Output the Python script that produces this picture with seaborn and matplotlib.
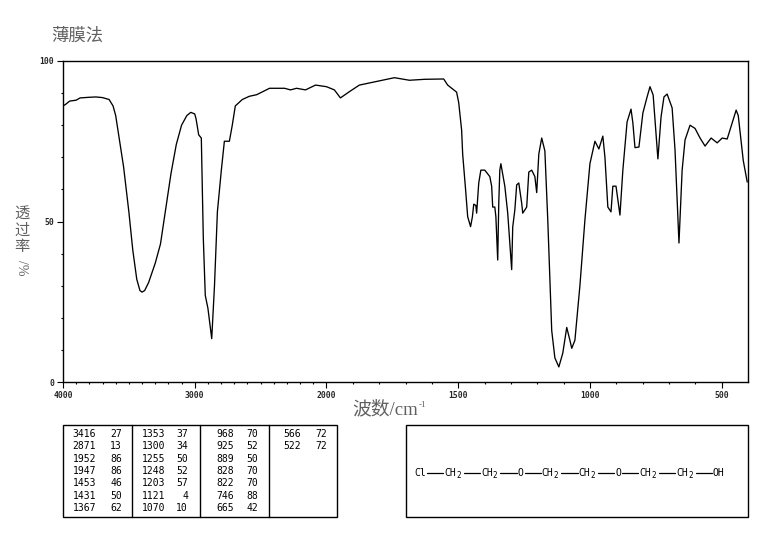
import numpy as np
import pandas as pd
import matplotlib
matplotlib.use("Agg")
import matplotlib.pyplot as plt
from matplotlib.lines import Line2D
from matplotlib.patches import Rectangle
from matplotlib.ticker import FixedLocator, FixedFormatter
import seaborn as sns

sns.set_style("white")
plt.rcParams['font.family'] = ['Noto Sans CJK SC', 'DejaVu Sans']

wavenumber = [4000, 3980, 3950, 3900, 3870, 3800, 3750, 3700, 3650, 3620, 3600, 3570, 3540, 3500, 3470, 3440,
              3416, 3400, 3380, 3350, 3300, 3260, 3220, 3180, 3140, 3100, 3060, 3030, 3000, 2990, 2970, 2950,
              2935, 2920, 2900, 2871, 2850, 2828, 2798, 2775, 2737, 2715, 2692, 2639, 2586, 2530, 2432, 2318, 2273,
              2227, 2159, 2083, 2000, 1970, 1947, 1912, 1875, 1818, 1742, 1685, 1627,
              1570, 1555, 1540, 1506, 1498, 1487, 1483, 1472, 1464, 1453, 1446, 1441, 1433, 1430, 1422, 1414,
              1399, 1380, 1373, 1369, 1361, 1357, 1350, 1346, 1342, 1338, 1323, 1312, 1297, 1293, 1285, 1278,
              1270, 1259, 1255, 1240, 1232, 1221, 1209, 1202, 1194, 1183, 1171, 1160, 1145, 1133, 1118, 1103,
              1088, 1076, 1069, 1057, 1038, 1019, 1000, 981, 966, 951, 943, 932, 920, 913, 901, 886, 875, 859,
              844, 837, 829, 814, 799, 783, 772, 760, 753, 742, 730, 719, 707, 688, 677, 662, 650, 639, 620,
              601, 582, 563, 540, 517, 498, 479, 460, 445, 437, 418, 403]
transmittance = [86, 86.5, 87.5, 87.8, 88.5, 88.7, 88.8, 88.6, 88, 86, 83, 75, 67, 53, 41, 32,
                 28.5, 28, 28.5, 31, 37, 43, 54, 65, 74, 80, 83, 84, 83.5, 82, 77, 76,
                 45, 27, 23, 13.5, 30, 53, 66, 75, 75, 80, 86, 88, 89, 89.5, 91.5, 91.5, 91,
                 91.5, 91, 92.5, 92, 91, 88.5, 90.5, 92.5, 93.5, 94.8, 94, 94.3,
                 94.4, 94.4, 92.5, 90.3, 87, 78.5, 71, 60, 51.5, 48.4, 51.5, 55.4, 55, 52.6, 62, 66,
                 66, 64, 61, 54.5, 54.5, 51.5, 38, 55.7, 66, 68, 61, 52.6, 35, 48.3, 53.6, 61.4,
                 62, 55.7, 52.6, 54.5, 65.4, 66, 64, 59, 71, 76, 72, 50.5, 16, 7.5, 4.7, 9,
                 17, 13, 10.5, 13, 30, 50.5, 68, 75, 72.6, 76.6, 70, 54.5, 53, 61, 61, 52, 66, 81,
                 85, 80.7, 73, 73.2, 83.8, 88.8, 92, 89.4, 81.6, 69.5, 82.6, 88.8, 89.7, 85.4, 72.3, 43.3, 66, 75.4, 80,
                 79, 76, 73.5, 76, 74.5, 76, 75.7, 80.7, 84.7, 83, 69, 62.3]

x_major = [4000, 3000, 2000, 1500, 1000, 500]
x_minor = list(range(3900, 400, -100))
y_major = [0, 50, 100]
y_minor = [10, 20, 30, 40, 60, 70, 80, 90]

peak_columns = [
    [("3416", "27"), ("2871", "13"), ("1952", "86"), ("1947", "86"), ("1453", "46"), ("1431", "50"), ("1367", "62")],
    [("1353", "37"), ("1300", "34"), ("1255", "50"), ("1248", "52"), ("1203", "57"), ("1121", "4"), ("1070", "10")],
    [("968", "70"), ("925", "52"), ("889", "50"), ("828", "70"), ("822", "70"), ("746", "88"), ("665", "42")],
    [("566", "72"), ("522", "72")],
]
formula = ["Cl", "CH2", "CH2", "O", "CH2", "CH2", "O", "CH2", "CH2", "OH"]

W, H = 765, 539
fig = plt.figure(figsize=(W / 100, H / 100), dpi=100, facecolor="white")
ax = fig.add_axes([63 / W, 1 - 382 / H, 685 / W, 321 / H])


def fwd(x):
    x = np.asarray(x, dtype=float)
    return np.where(x > 2000, 2000 + (x - 2000) / 2, x)


def inv(v):
    v = np.asarray(v, dtype=float)
    return np.where(v > 2000, 2000 + (v - 2000) * 2, v)


df = pd.DataFrame({"wavenumber": wavenumber, "T": transmittance})
sns.lineplot(data=df, x="wavenumber", y="T", ax=ax, color="black", lw=0.95,
             sort=False, estimator=None, errorbar=None)
ax.set_xscale("function", functions=(fwd, inv))
ax.set_xlim(4000, 400)
ax.set_ylim(0, 100)
ax.xaxis.set_major_locator(FixedLocator(x_major))
ax.xaxis.set_major_formatter(FixedFormatter([str(v) for v in x_major]))
ax.xaxis.set_minor_locator(FixedLocator(x_minor))
ax.xaxis.set_minor_formatter(FixedFormatter([""] * len(x_minor)))
ax.yaxis.set_major_locator(FixedLocator(y_major))
ax.yaxis.set_major_formatter(FixedFormatter([str(v) for v in y_major]))
ax.yaxis.set_minor_locator(FixedLocator(y_minor))
ax.tick_params(axis="both", which="major", direction="out", length=4.5, width=0.8,
               labelsize=5.8, color="black", pad=2, bottom=True, left=True)
ax.tick_params(axis="both", which="minor", direction="out", length=1.6, width=0.8,
               color="black", bottom=True, left=True)
for lab in ax.get_xticklabels() + ax.get_yticklabels():
    lab.set_fontfamily("DejaVu Sans Mono")
    lab.set_fontweight("bold")
ax.set_xlabel("")
ax.set_ylabel("")
for s in ax.spines.values():
    s.set_visible(True)
    s.set_color("black")
    s.set_linewidth(1.0)


def px(x, y):
    return x / W, 1 - y / H


gray = "#606060"
serif = ['Liberation Serif', 'Noto Sans CJK SC']
fig.text(*px(77, 36), "薄膜法", fontsize=12.5, color=gray, ha="center", va="center")
fig.text(*px(22, 230), "透\n过\n率", fontsize=11, color=gray, ha="center", va="center", linespacing=1.0)
fig.text(*px(22, 268), "/%", fontsize=10, color=gray, ha="center", va="center", rotation=270, family=serif)
fig.text(*px(418, 409), "波数/cm", fontsize=13.5, color=gray, ha="right", va="center", family=serif)
fig.text(*px(419, 405), "-1", fontsize=6.5, color=gray, ha="left", va="center", family=serif)


def box(x0, y0, x1, y1):
    fig.add_artist(Rectangle(px(x0, y1), (x1 - x0) / W, (y1 - y0) / H, transform=fig.transFigure,
                             fill=False, ec="black", lw=1.0))


box(63, 425, 337, 517)
for xd in (132, 200, 269):
    fig.add_artist(Line2D([xd / W] * 2, [1 - 425 / H, 1 - 517 / H], color="black", lw=1.0))

col_right = [(96, 122), (165, 188), (234, 258), (301, 327)]
for (xa, xb), column in zip(col_right, peak_columns):
    for i, (wn, t) in enumerate(column):
        y = 434 + i * 12.33
        fig.text(*px(xa, y), wn, fontsize=7, family="DejaVu Sans Mono", ha="right", va="center", color="black")
        fig.text(*px(xb, y), t, fontsize=7, family="DejaVu Sans Mono", ha="right", va="center", color="black")

box(406, 425, 748, 517)
ymid = 473
cursor = 414
for i, atom in enumerate(formula):
    sub = atom.endswith("2")
    main = atom[:-1] if sub else atom
    fig.text(*px(cursor, ymid), main, fontsize=7, family="DejaVu Sans Mono", ha="left", va="center", color="black")
    cursor += 6 * len(main)
    if sub:
        fig.text(*px(cursor, ymid + 2.5), "2", fontsize=5.5, family="DejaVu Sans Mono", ha="left", va="center",
                 color="black")
        cursor += 6.5
    if i < len(formula) - 1:
        fig.add_artist(Line2D([(cursor + 1) / W, (cursor + 17.2) / W], [1 - ymid / H] * 2, color="black", lw=0.9))
        cursor += 18.2

fig.savefig("out.png", dpi=100, facecolor="white")
